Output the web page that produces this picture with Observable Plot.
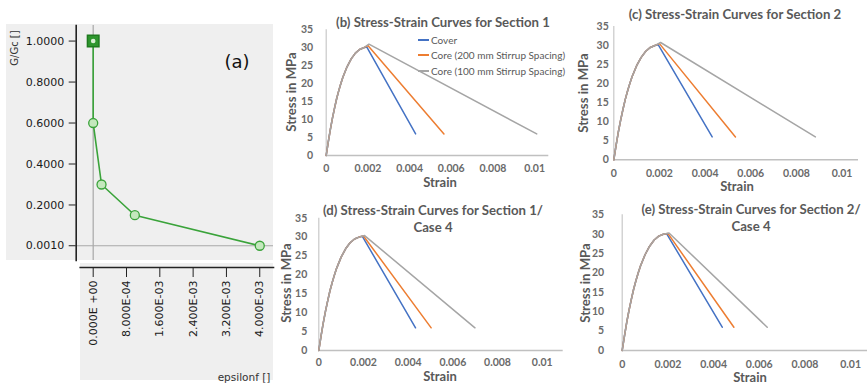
<!DOCTYPE html>
<html><head><meta charset="utf-8">
<script src="https://cdn.jsdelivr.net/npm/d3@7"></script>
<script src="https://cdn.jsdelivr.net/npm/@observablehq/plot@0.6"></script>
<style>
body{margin:0;background:#fff;}
#root{position:relative;width:867px;height:384px;overflow:hidden;}
.box{position:absolute;}
.t{position:absolute;transform:translate(-50%,-50%);white-space:nowrap;line-height:1;}
.ex{font-family:Lato,sans-serif;color:#595959;}
.svgw{position:absolute;}
.svgw svg{overflow:visible;}
</style></head><body><div id="root"></div>
<script>
// ---------- Panel (a) data ----------
const aStrain = [0, 0, 0.0002, 0.001, 0.004];
const aRatio = [1.0, 0.6, 0.3, 0.15, 0.001];
const aYTicks = [1.0, 0.8, 0.6, 0.4, 0.2, 0.001];
const aXTicks = [0, 0.0008, 0.0016, 0.0024, 0.0032, 0.004];
const aXTickLabels = ["0.000E +00", "8.000E-04", "1.600E-03", "2.400E-03", "3.200E-03", "4.000E-03"];

// ---------- Panels (b)-(e) data ----------
const seriesNames = ["Cover", "Core (200 mm Stirrup Spacing)", "Core (100 mm Stirrup Spacing)"];
const seriesColors = ["#4472c4", "#ed7d31", "#a5a5a5"];
const riseStrain = [0, 0.0001, 0.0002, 0.0003, 0.0004, 0.0005, 0.0006, 0.0007, 0.0008, 0.001, 0.0012, 0.0014, 0.0016, 0.0018];
const riseStress = [0, 3.8, 7.3, 10.4, 13.2, 15.8, 18.0, 20.0, 21.8, 24.7, 26.9, 28.5, 29.5, 30.0];
const peakStrain = [0.00195, 0.002, 0.00205];
const endStress = [6, 6, 6];
const peakStressB = [30.2, 30.6, 31.0];
const endStrainB = [0.00429, 0.00565, 0.0101];
const peakStressC = [30.2, 30.5, 30.8];
const endStrainC = [0.00431, 0.00533, 0.00883];
const peakStressD = [30.2, 30.3, 30.4];
const endStrainD = [0.00433, 0.00503, 0.00699];
const peakStressE = [30.1, 30.2, 30.3];
const endStrainE = [0.00438, 0.00489, 0.00635];
const yTicks = [0, 5, 10, 15, 20, 25, 30, 35];
const xTicks = [0, 0.002, 0.004, 0.006, 0.008, 0.01];
const xTickLabels = ["0", "0.002", "0.004", "0.006", "0.008", "0.01"];

const root = document.getElementById("root");
function add(html){ root.insertAdjacentHTML("beforeend", html); }
function place(svg, left, top){
  const d = document.createElement("div");
  d.className = "svgw"; d.style.left = left + "px"; d.style.top = top + "px";
  d.appendChild(svg); root.appendChild(d);
}

// ---------- Panel (a) ----------
add('<div class="box" style="left:6px;top:24px;width:267px;height:236px;background:#efefef"></div>');
add('<div class="box" style="left:80px;top:263px;width:193px;height:117px;background:#efefef"></div>');

const aRows = aStrain.map((s, i) => ({s, r: aRatio[i]}));
const aFont = {fontFamily: "'DejaVu Sans', sans-serif", fontSize: "11px", background: "transparent", color: "#1a1a1a"};
const aXFmt = new Map(aXTicks.map((d, i) => [d, aXTickLabels[i]]));

const aTop = Plot.plot({
  width: 275, height: 260,
  marginLeft: 75.7, marginRight: 2, marginTop: 25, marginBottom: 0,
  x: {domain: [-0.000408, 0.00433]},
  y: {domain: [-0.071, 1.076]},
  style: aFont,
  marks: [
    Plot.ruleX([0], {stroke: "#a8a8a8", strokeWidth: 1.2}),
    Plot.ruleY([0.001], {stroke: "#a8a8a8", strokeWidth: 1.2}),
    Plot.frame({anchor: "left", stroke: "#222", strokeWidth: 1.6}),
    Plot.axisY(aYTicks, {tickSize: 7, tickPadding: 5, tickFormat: d => d.toFixed(4), stroke: "#222", label: null}),
    Plot.axisX([], {label: null}),
    Plot.line(aRows, {x: "s", y: "r", stroke: "#3aa33a", strokeWidth: 1.6}),
    Plot.dot(aRows.slice(1), {x: "s", y: "r", r: 4.5, fill: "#c4e8bd", stroke: "#3aa33a", strokeWidth: 1.3}),
    Plot.dot(aRows.slice(0, 1), {x: "s", y: "r", symbol: "square", r: 6.5, fill: "#2e962e", stroke: "#1f7a1f"}),
    Plot.dot(aRows.slice(0, 1), {x: "s", y: "r", r: 2.3, fill: "#d8efd4"})
  ]
});
place(aTop, 0, 0);

const aBottom = Plot.plot({
  width: 275, height: 129,
  marginLeft: 75.7, marginRight: 2, marginTop: 0, marginBottom: 117,
  x: {domain: [-0.000408, 0.00433]},
  y: {axis: null},
  style: aFont,
  marks: [
    Plot.frame({anchor: "bottom", insetLeft: 4, stroke: "#222", strokeWidth: 1.6}),
    Plot.axisX(aXTicks, {tickSize: 10, tickPadding: 3, tickRotate: -90, tickFormat: d => aXFmt.get(d), stroke: "#222", label: null})
  ]
});
place(aBottom, 0, 255);

add('<div class="t" style="left:237px;top:62px;font-family:\'DejaVu Sans\',sans-serif;font-size:18px;color:#111">(a)</div>');
add('<div class="t" style="left:15px;top:48px;transform:translate(-50%,-50%) rotate(-90deg);font-family:\'DejaVu Sans\',sans-serif;font-size:10px;color:#333">G/Gc []</div>');
add('<div class="t" style="left:244px;top:377px;font-family:\'DejaVu Sans\',sans-serif;font-size:10.5px;color:#333">epsilonf []</div>');

// ---------- Excel-style panels ----------
const xFmt = new Map(xTicks.map((d, i) => [d, xTickLabels[i]]));
function excelPanel(cfg, peaks, ends){
  const rows = [];
  seriesNames.forEach((name, i) => {
    riseStrain.forEach((s, j) => rows.push({name, strain: s, stress: riseStress[j]}));
    rows.push({name, strain: peakStrain[i], stress: peaks[i]});
    rows.push({name, strain: ends[i], stress: endStress[i]});
  });
  const svg = Plot.plot({
    width: cfg.w, height: cfg.h,
    marginLeft: cfg.ml, marginRight: cfg.mr, marginTop: cfg.mt, marginBottom: cfg.mb,
    x: {domain: [0, cfg.xmax]},
    y: {domain: [0, 35]},
    color: {domain: seriesNames, range: seriesColors},
    style: {fontFamily: "Lato, sans-serif", fontSize: "10.5px", fontWeight: "bold", color: "#6a6a6a", background: "transparent"},
    marks: [
      Plot.ruleX([0], {stroke: "#c8c8c8", strokeWidth: 1.2}),
      Plot.ruleY([0], {stroke: "#c0c0c0", strokeWidth: 1.5}),
      Plot.axisY(yTicks, {tickSize: 0, tickPadding: cfg.ypad, label: null}),
      Plot.axisX(xTicks, {tickSize: 0, tickPadding: cfg.xpad, tickFormat: d => xFmt.get(d), label: null}),
      Plot.line(rows, {x: "strain", y: "stress", z: "name", stroke: "name", strokeWidth: 1.5})
    ]
  });
  place(svg, cfg.left, cfg.top);
}

excelPanel({left: 280, top: 0, w: 290, h: 195, ml: 45.7, mr: 21.7, mt: 29.3, mb: 40, xmax: 0.01068, ypad: 13, xpad: 9}, peakStressB, endStrainB);
excelPanel({left: 578, top: 0, w: 289, h: 195, ml: 35.3, mr: 9, mt: 26, mb: 35.7, xmax: 0.01072, ypad: 5, xpad: 10}, peakStressC, endStrainC);
excelPanel({left: 280, top: 195, w: 290, h: 189, ml: 38.3, mr: 7.3, mt: 22.7, mb: 34, xmax: 0.01094, ypad: 11.5, xpad: 8}, peakStressD, endStrainD);
excelPanel({left: 578, top: 195, w: 289, h: 189, ml: 43.7, mr: 0, mt: 19.3, mb: 34, xmax: 0.01074, ypad: 18, xpad: 10}, peakStressE, endStrainE);

const titleStyle = 'font-size:13.2px;font-weight:bold';
const axStyle = 'font-size:13.2px;font-weight:bold';
const strainStyle = 'font-size:13px;font-weight:bold';
add(`<div class="t ex" style="left:443px;top:23px;${titleStyle}">(b) Stress-Strain Curves for Section 1</div>`);
add(`<div class="t ex" style="left:735px;top:15px;${titleStyle}">(c) Stress-Strain Curves for Section 2</div>`);
add(`<div class="t ex" style="left:433px;top:211px;${titleStyle}">(d) Stress-Strain Curves for Section 1/</div>`);
add(`<div class="t ex" style="left:433px;top:228px;${titleStyle}">Case 4</div>`);
add(`<div class="t ex" style="left:751px;top:210px;${titleStyle}">(e) Stress-Strain Curves for Section 2/</div>`);
add(`<div class="t ex" style="left:751px;top:227px;${titleStyle}">Case 4</div>`);

[[292, 92], [584, 93], [287, 283], [585.5, 283]].forEach(([x, y]) =>
  add(`<div class="t ex" style="left:${x}px;top:${y}px;${axStyle};transform:translate(-50%,-50%) rotate(-90deg)">Stress in MPa</div>`));
[[440, 182], [737, 186], [440, 376], [750, 377]].forEach(([x, y]) =>
  add(`<div class="t ex" style="left:${x}px;top:${y}px;${strainStyle}">Strain</div>`));

// legend in (b)
[40, 55, 71].forEach((y, i) => {
  add(`<div class="box" style="left:418px;top:${y - 0.75}px;width:11px;height:1.5px;background:${seriesColors[i]}"></div>`);
  add(`<div class="box ex" style="left:431px;top:${y - 6}px;font-size:10px;line-height:12px;white-space:nowrap">${seriesNames[i]}</div>`);
});
</script>
</body></html>
